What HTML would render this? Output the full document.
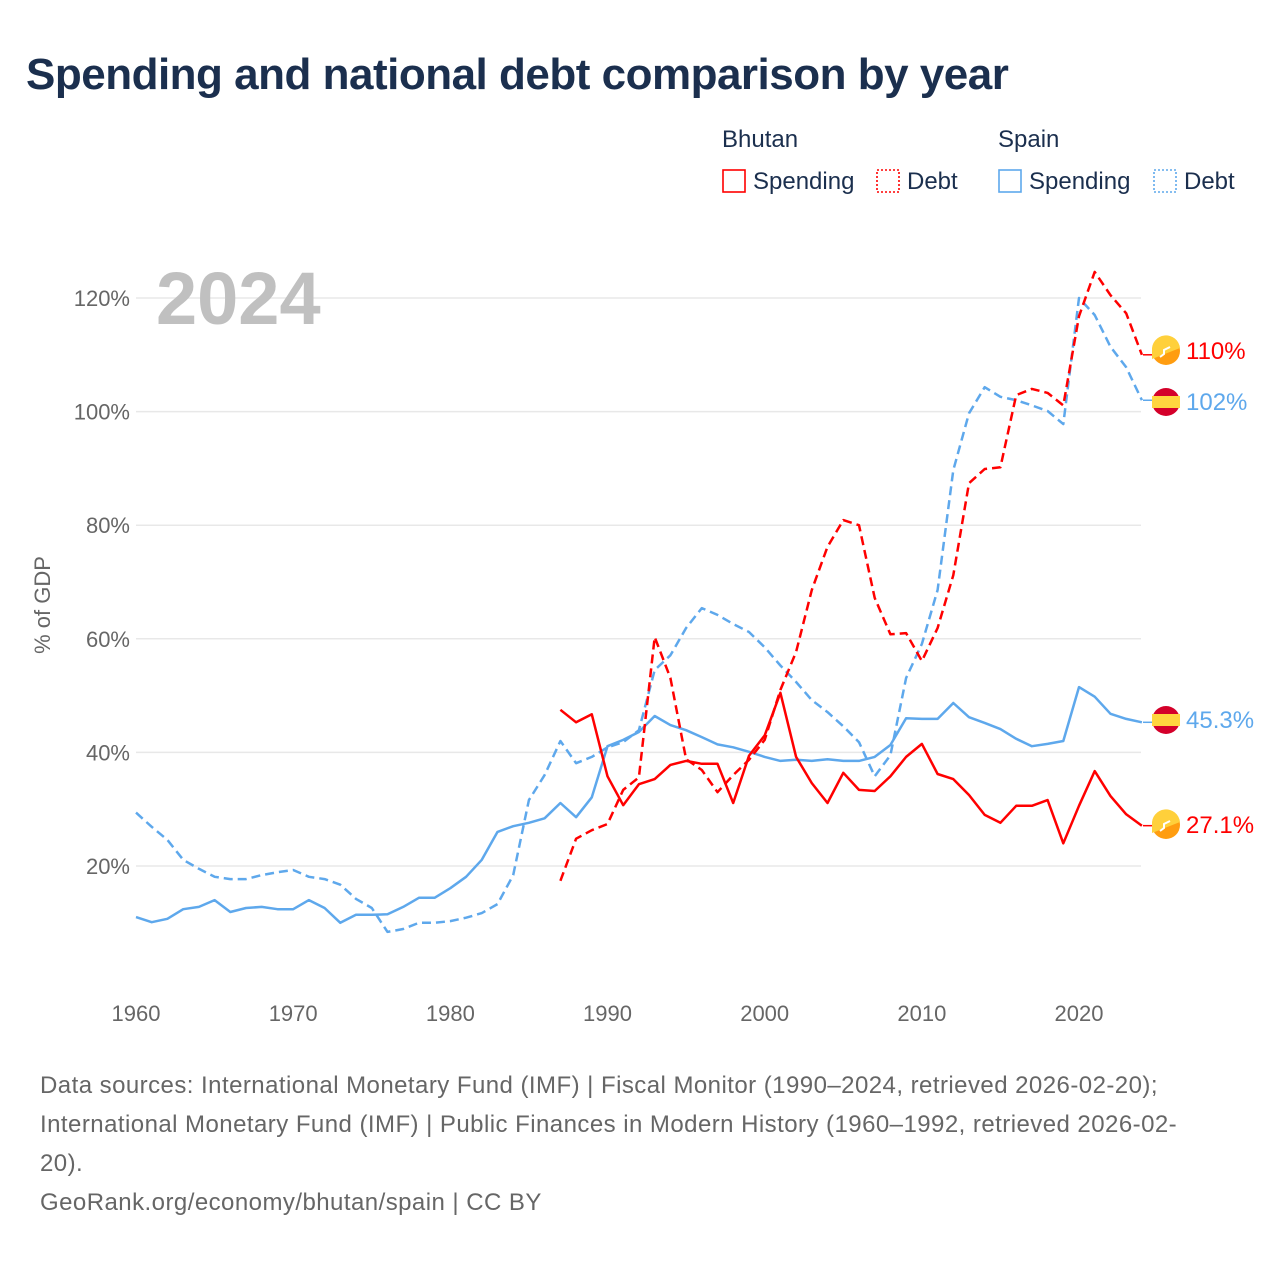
<!DOCTYPE html>
<html><head><meta charset="utf-8"><style>
body{margin:0;background:#fff;font-family:"Liberation Sans",sans-serif}
#wrap{position:relative;width:1280px;height:1280px;overflow:hidden}
.t{position:absolute;white-space:nowrap}
</style></head><body><div id="wrap">
<div class="t" style="left:26px;top:50px;font-size:44px;font-weight:bold;color:#1b2f4e;letter-spacing:-0.5px">Spending and national debt comparison by year</div>
<div class="t" style="left:40px;top:1066px;font-size:24px;color:#666;line-height:39px;white-space:normal;width:1165px;letter-spacing:0.45px">Data sources: International Monetary Fund (IMF) | Fiscal Monitor (1990–2024, retrieved 2026-02-20); International Monetary Fund (IMF) | Public Finances in Modern History (1960–1992, retrieved 2026-02-20).<br>GeoRank.org/economy/bhutan/spain | CC BY</div>
<svg id="c" width="1280" height="1280" style="position:absolute;left:0;top:0"></svg>
</div>
<script>
const years=[];for(let y=1960;y<=2024;y++)years.push(y);
const esSpend=[11.0,10.1,10.7,12.4,12.8,14.0,11.9,12.6,12.8,12.4,12.4,14.0,12.6,10.0,11.4,11.4,11.5,12.8,14.4,14.4,16.1,18.1,21.1,26.0,27.0,27.6,28.4,31.1,28.6,32.1,41.1,42.2,43.6,46.4,44.8,43.9,42.7,41.4,40.9,40.1,39.2,38.5,38.7,38.5,38.8,38.5,38.5,39.2,41.3,46.0,45.9,45.9,48.7,46.2,45.2,44.1,42.4,41.1,41.5,42.0,51.5,49.8,46.8,45.9,45.3];
const esDebt=[29.4,26.9,24.6,21.1,19.5,18.1,17.7,17.7,18.4,18.9,19.3,18.1,17.7,16.7,14.2,12.6,8.4,8.9,10.0,10.0,10.3,10.9,11.7,13.3,18.4,31.6,36.0,42.0,38.1,39.2,40.9,41.8,43.9,54.5,57.1,61.9,65.4,64.2,62.6,61.2,58.5,55.3,52.4,49.2,47.1,44.6,41.8,35.8,39.5,53.1,59.1,68.6,89.7,99.7,104.3,102.6,102.0,101.1,100.1,97.8,120.0,117.0,111.4,107.8,102.0];
const btYears=years.slice(27);
const btSpend=[47.5,45.3,46.7,35.8,30.7,34.4,35.3,37.8,38.5,38.0,38.0,31.1,39.4,43.0,50.5,39.2,34.6,31.1,36.4,33.4,33.2,35.8,39.2,41.5,36.2,35.3,32.5,29.0,27.6,30.6,30.6,31.6,24.0,30.6,36.7,32.3,29.1,27.1];
const btDebt=[17.4,24.8,26.3,27.4,33.4,35.6,60.3,53.1,38.8,36.9,33.0,36.0,38.7,42.2,51.0,57.7,68.6,76.2,80.9,80.0,67.2,60.8,61.0,56.1,61.9,71.2,87.4,89.9,90.2,102.9,104.0,103.3,101.1,116.8,124.6,120.5,117.3,110.0];
const yTicks=[20,40,60,80,100,120];
const xTicks=[1960,1970,1980,1990,2000,2010,2020];
const X=y=>136+(y-1960)*15.717;
const Y=v=>979.6-v*5.68;
const svg=document.getElementById('c');const NS='http://www.w3.org/2000/svg';
function mk(t,a,p){const e=document.createElementNS(NS,t);for(const k in a)e.setAttribute(k,a[k]);(p||svg).appendChild(e);return e;}
const RED='#ff0000',BLUE='#5ea8ec';
yTicks.forEach(v=>{
 const l=mk('line',{x1:136,x2:1141,y1:Y(v),y2:Y(v),stroke:'#e8e8e8','stroke-width':1.5});
 
 
 const t=mk('text',{x:130,y:Y(v)+8,'text-anchor':'end','font-size':22,fill:'#666','font-family':'Liberation Sans'});t.textContent=v+'%';
 
 
});
xTicks.forEach(v=>{
 const t=mk('text',{x:X(v),y:1021,'text-anchor':'middle','font-size':22,fill:'#666','font-family':'Liberation Sans'});t.textContent=v;
 
 
});
const yt=mk('text',{transform:'translate(50,605) rotate(-90)','text-anchor':'middle','font-size':22,fill:'#666','font-family':'Liberation Sans'});yt.textContent='% of GDP';


const yr=mk('text',{x:156,y:324,'font-size':74,'font-weight':'bold',fill:'#c0c0c0','font-family':'Liberation Sans'});yr.textContent='2024';


function line(xs,vs,col,dash,name){
 const d=vs.map((v,i)=>(i?'L':'M')+X(xs[i]).toFixed(1)+','+Y(v).toFixed(1)).join('');
 const p=mk('path',{d:d,fill:'none',stroke:col,'stroke-width':2.5,'stroke-linejoin':'round'});
 if(dash)p.setAttribute('stroke-dasharray','9,5');
 
 
}
line(years,esSpend,BLUE,false,'spain-spending-line');
line(years,esDebt,BLUE,true,'spain-debt-line');
line(btYears,btSpend,RED,false,'bhutan-spending-line');
line(btYears,btDebt,RED,true,'bhutan-debt-line');
function endLabel(v,col,flag,txt,yy,name){
 const cy=yy;
 const g=mk('g',{});
 
 mk('line',{x1:1143,x2:1152,y1:Y(v),y2:Y(v),stroke:col,'stroke-width':1.5},g);
 if(flag==='es'){
  mk('circle',{cx:1166,cy:cy,r:14,fill:'#d4002a'},g);
  mk('rect',{x:1152,y:cy-6,width:28,height:12,fill:'#ffd53f'},g);
 } else {
  mk('circle',{cx:1166,cy:cy,r:14,fill:'#ff9d10'},g);
  mk('path',{d:`M1152,${cy} A14,14 0 0 1 1180,${cy-3} L1152,${cy+8}Z`,fill:'#ffd03b'},g);
  mk('path',{d:`M1160,${cy+6} l4,-3 l0,-4 l6,-3`,stroke:'#fff','stroke-width':2,fill:'none'},g);
 }
 const t=mk('text',{x:1186,y:cy+8,'font-size':24,fill:col,'font-family':'Liberation Sans'},g);t.textContent=txt;
}
endLabel(btDebt[btDebt.length-1],RED,'bt','110%',351,'bhutan-debt-end-label');
endLabel(esDebt[esDebt.length-1],BLUE,'es','102%',402,'spain-debt-end-label');
endLabel(esSpend[esSpend.length-1],BLUE,'es','45.3%',720,'spain-spending-end-label');
endLabel(btSpend[btSpend.length-1],RED,'bt','27.1%',825,'bhutan-spending-end-label');
function lt(x,y,s,n,size){const t=mk('text',{x:x,y:y,'font-size':size||24,fill:'#1b2f4e','font-family':'Liberation Sans'});t.textContent=s;
 
 }
lt(722,147,'Bhutan','legend-bhutan-title');lt(998,147,'Spain','legend-spain-title');
function sw(x,col,dash,label,n){
 const g=mk('g',{});
 
 const r=mk('rect',{x:x,y:170,width:22,height:22,fill:'none',stroke:col,'stroke-width':1.6},g);
 if(dash)r.setAttribute('stroke-dasharray','2,2');
 const t=mk('text',{x:x+30,y:189,'font-size':24,fill:'#1b2f4e','font-family':'Liberation Sans'},g);t.textContent=label;
}
sw(723,RED,false,'Spending','legend-bhutan-spending');
sw(877,RED,true,'Debt','legend-bhutan-debt');
sw(999,BLUE,false,'Spending','legend-spain-spending');
sw(1154,BLUE,true,'Debt','legend-spain-debt');
</script></body></html>
